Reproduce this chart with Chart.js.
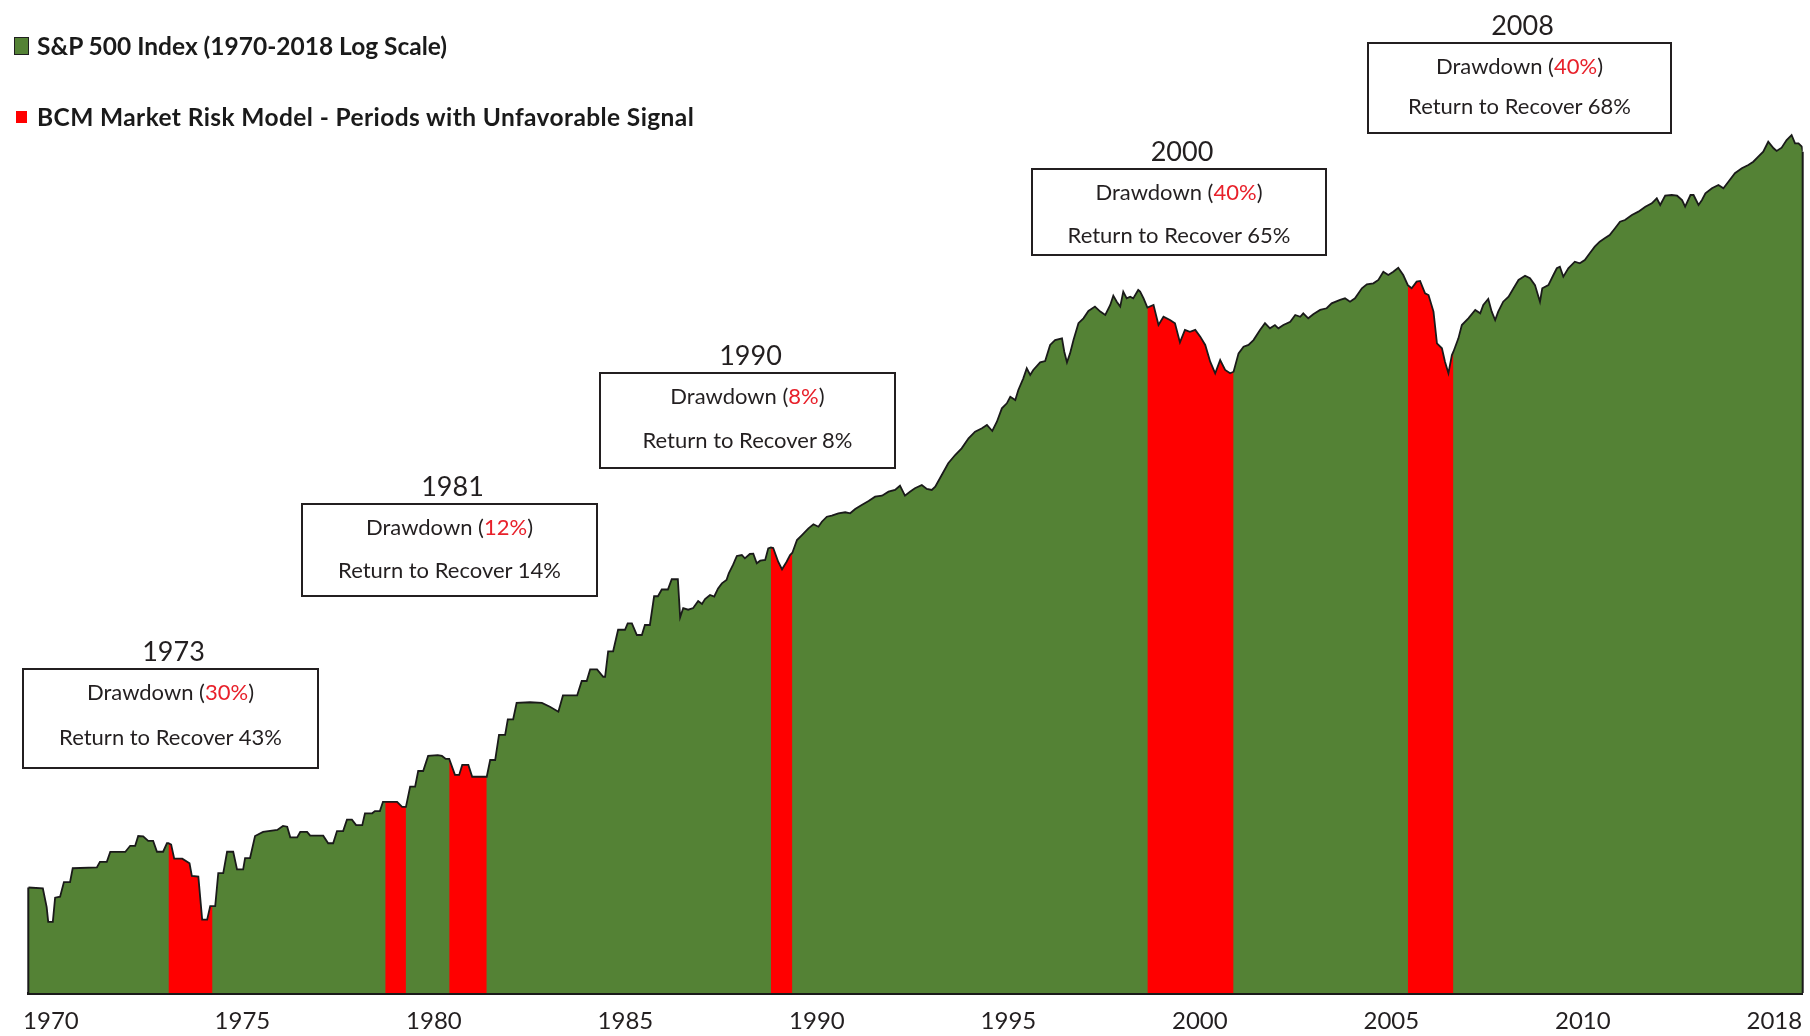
<!DOCTYPE html>
<html>
<head>
<meta charset="utf-8">
<title>S&amp;P 500 and BCM Market Risk Model</title>
<script src="https://cdn.jsdelivr.net/npm/chart.js@4.4.1/dist/chart.umd.min.js"></script>
<style>
  html, body { margin: 0; padding: 0; background: #fff; }
  #wrap { position: relative; width: 1810px; height: 1036px; font-family: Lato, 'Open Sans', sans-serif; color: #231f20; }
  #chart { position: absolute; left: 0; top: 0; }
  .swatch { position: absolute; box-sizing: border-box; }
  .legend-text { position: absolute; left: 37px; font-weight: bold; font-size: 24.5px; line-height: 28px; white-space: nowrap; color: #1a1a1a; }
  .note-title { position: absolute; font-size: 27px; line-height: 30px; transform: translate(-50%, -50%); white-space: nowrap; }
  .note { position: absolute; box-sizing: border-box; border: 2.5px solid #231f20; background: #fff; }
  .note div { position: absolute; left: 0; right: 0; text-align: center; font-size: 22px; line-height: 26px; transform: translateY(-50%); white-space: nowrap; }
  .red { color: #e8202a; }
</style>
</head>
<body>
<div id="wrap">
  <canvas id="chart" width="1810" height="1036"></canvas>
</div>
<script>
// S&P 500 level (x in the picture's year units)
const dates = [
  1969.41, 1969.79, 1969.89, 1969.93, 1970.05, 1970.11, 1970.24, 1970.34, 1970.50, 1970.57,
  1971.20, 1971.28, 1971.46, 1971.55, 1971.94, 1972.07, 1972.20, 1972.28, 1972.41, 1972.54,
  1972.67, 1972.77, 1972.93, 1973.03, 1973.07, 1973.14, 1973.22, 1973.43, 1973.62, 1973.68,
  1973.85, 1973.95, 1974.08, 1974.16, 1974.22, 1974.29, 1974.37, 1974.50, 1974.60, 1974.76,
  1974.86, 1975.02, 1975.07, 1975.20, 1975.33, 1975.54, 1975.91, 1976.06, 1976.17, 1976.25,
  1976.43, 1976.51, 1976.69, 1976.77, 1977.11, 1977.24, 1977.37, 1977.47, 1977.63, 1977.73,
  1977.86, 1977.97, 1978.13, 1978.20, 1978.39, 1978.46, 1978.59, 1978.67, 1978.73, 1978.91,
  1979.04, 1979.17, 1979.27, 1979.38, 1979.51, 1979.59, 1979.72, 1979.85, 1980.10, 1980.21,
  1980.31, 1980.40, 1980.55, 1980.66, 1980.74, 1980.90, 1981.00, 1981.38, 1981.47, 1981.60,
  1981.70, 1981.86, 1981.93, 1982.07, 1982.16, 1982.51, 1982.82, 1983.03, 1983.25, 1983.37,
  1983.74, 1983.86, 1983.99, 1984.08, 1984.26, 1984.42, 1984.47, 1984.55, 1984.68, 1984.81,
  1984.99, 1985.06, 1985.17, 1985.30, 1985.43, 1985.51, 1985.64, 1985.75, 1985.85, 1985.95,
  1986.11, 1986.21, 1986.37, 1986.43, 1986.51, 1986.64, 1986.77, 1986.90, 1987.00, 1987.08,
  1987.21, 1987.32, 1987.42, 1987.52, 1987.64, 1987.70, 1987.81, 1987.91, 1988.04, 1988.12,
  1988.25, 1988.34, 1988.43, 1988.52, 1988.65, 1988.73, 1988.80, 1988.86, 1988.99, 1989.09,
  1989.21, 1989.30, 1989.36, 1989.48, 1989.61, 1989.78, 1989.91, 1990.04, 1990.13, 1990.26,
  1990.39, 1990.56, 1990.74, 1990.87, 1991.00, 1991.17, 1991.35, 1991.52, 1991.70, 1991.87,
  1992.04, 1992.17, 1992.30, 1992.43, 1992.56, 1992.74, 1992.87, 1993.00, 1993.09, 1993.26,
  1993.43, 1993.61, 1993.78, 1993.96, 1994.13, 1994.31, 1994.44, 1994.58, 1994.70, 1994.83,
  1994.96, 1995.05, 1995.18, 1995.26, 1995.39, 1995.48, 1995.57, 1995.65, 1995.83, 1995.96,
  1996.09, 1996.22, 1996.40, 1996.46, 1996.53, 1996.61, 1996.70, 1996.83, 1996.96, 1997.09,
  1997.26, 1997.40, 1997.53, 1997.66, 1997.74, 1997.83, 1997.92, 1998.00, 1998.09, 1998.18,
  1998.26, 1998.39, 1998.44, 1998.53, 1998.63, 1998.79, 1998.92, 1999.05, 1999.22, 1999.35,
  1999.48, 1999.61, 1999.74, 1999.88, 2000.01, 2000.14, 2000.27, 2000.40, 2000.53, 2000.66,
  2000.79, 2000.88, 2001.01, 2001.14, 2001.27, 2001.40, 2001.57, 2001.70, 2001.83, 2001.96,
  2002.05, 2002.18, 2002.36, 2002.49, 2002.62, 2002.70, 2002.83, 2002.96, 2003.14, 2003.31,
  2003.44, 2003.66, 2003.79, 2003.92, 2004.05, 2004.23, 2004.36, 2004.53, 2004.66, 2004.79,
  2004.92, 2005.05, 2005.18, 2005.31, 2005.43, 2005.53, 2005.66, 2005.75, 2005.88, 2005.97,
  2006.10, 2006.19, 2006.32, 2006.40, 2006.49, 2006.58, 2006.62, 2006.75, 2006.84, 2007.01,
  2007.19, 2007.32, 2007.40, 2007.53, 2007.62, 2007.71, 2007.79, 2007.92, 2008.06, 2008.19,
  2008.32, 2008.49, 2008.62, 2008.75, 2008.88, 2008.94, 2009.10, 2009.23, 2009.32, 2009.40,
  2009.49, 2009.62, 2009.79, 2009.92, 2010.05, 2010.18, 2010.31, 2010.44, 2010.57, 2010.70,
  2010.84, 2010.97, 2011.10, 2011.28, 2011.45, 2011.63, 2011.80, 2011.93, 2012.02, 2012.15,
  2012.32, 2012.46, 2012.59, 2012.67, 2012.81, 2012.89, 2013.02, 2013.11, 2013.20, 2013.37,
  2013.54, 2013.67, 2013.80, 2013.97, 2014.15, 2014.32, 2014.45, 2014.58, 2014.71, 2014.84,
  2014.98, 2015.06, 2015.19, 2015.32, 2015.45, 2015.54, 2015.63, 2015.72, 2015.74
];
const levels = [
  92.0, 91.6, 84.1, 78.6, 78.6, 87.8, 88.2, 94.3, 94.3, 100.5,
  100.9, 103.5, 103.5, 108.3, 108.3, 111.4, 111.4, 116.5, 116.3, 113.9,
  113.9, 108.4, 108.4, 112.7, 112.7, 112.0, 105.0, 105.0, 102.8, 97.0,
  96.7, 79.4, 79.4, 84.5, 84.5, 84.5, 98.3, 98.3, 108.4, 108.4,
  100.0, 100.0, 105.3, 105.3, 116.5, 118.7, 119.8, 122.0, 121.6, 115.8,
  115.8, 118.7, 118.7, 116.7, 116.7, 112.7, 112.7, 119.2, 119.2, 125.6,
  125.6, 122.5, 122.5, 129.3, 129.3, 130.6, 130.6, 136.3, 136.3, 136.3,
  136.2, 133.2, 133.2, 146.1, 146.1, 157.0, 157.0, 168.2, 168.8, 168.2,
  165.9, 165.9, 154.2, 154.2, 161.4, 161.4, 152.9, 152.9, 165.1, 165.1,
  185.2, 185.2, 199.0, 199.0, 214.5, 215.2, 214.5, 210.8, 206.1, 222.0,
  222.0, 237.2, 237.2, 250.2, 250.2, 241.9, 241.9, 271.8, 271.8, 300.1,
  300.1, 309.0, 309.0, 292.9, 292.9, 306.7, 306.7, 349.9, 349.9, 360.9,
  360.9, 378.3, 378.3, 317.7, 331.5, 329.0, 331.5, 342.4, 337.7, 345.5,
  351.9, 349.5, 362.8, 371.2, 377.0, 388.7, 403.9, 420.9, 422.8, 416.4,
  424.8, 425.5, 407.0, 411.9, 413.2, 435.9, 437.9, 436.5, 410.0, 395.9,
  410.0, 422.8, 427.3, 452.9, 463.3, 477.8, 486.7, 481.4, 492.5, 503.9,
  506.3, 511.9, 514.3, 511.9, 522.1, 531.8, 541.7, 552.4, 555.0, 565.2,
  569.7, 581.0, 555.0, 565.2, 574.1, 582.9, 572.3, 569.7, 578.4, 610.3,
  643.9, 668.8, 689.6, 722.1, 744.3, 756.0, 767.6, 746.6, 779.2, 828.4,
  847.7, 873.7, 860.7, 901.3, 950.8, 995.4, 965.4, 987.7, 1023, 1029,
  1108, 1133, 1142, 1074, 1023, 1066, 1133, 1224, 1252, 1295,
  1321, 1291, 1271, 1331, 1389, 1351, 1321, 1415, 1372, 1382,
  1372, 1426, 1415, 1372, 1315, 1331, 1214, 1261, 1242, 1224,
  1121, 1187, 1177, 1187, 1151, 1108, 1026, 973, 1034, 988,
  973, 980, 1066, 1099, 1108, 1133, 1187, 1224, 1196, 1214,
  1196, 1214, 1232, 1271, 1261, 1281, 1252, 1275, 1301, 1311,
  1341, 1362, 1372, 1351, 1372, 1437, 1463, 1470, 1493, 1550,
  1527, 1550, 1579, 1527, 1458, 1437, 1481, 1486, 1404, 1393,
  1291, 1116, 1091, 1026, 973, 1058, 1074, 1142, 1214, 1252,
  1301, 1281, 1331, 1368, 1291, 1242, 1291, 1351, 1382, 1437,
  1493, 1522, 1504, 1458, 1351, 1437, 1458, 1527, 1575, 1586,
  1515, 1575, 1623, 1611, 1636, 1687, 1739, 1779, 1807, 1834,
  1892, 1950, 1965, 2011, 2042, 2089, 2122, 2171, 2105, 2197,
  2204, 2197, 2154, 2089, 2204, 2204, 2105, 2154, 2221, 2273,
  2308, 2273, 2343, 2435, 2491, 2529, 2568, 2627, 2689, 2814,
  2731, 2697, 2738, 2836, 2902, 2793, 2793, 2751, 2689
];

// periods with an unfavorable signal (start / end, same year units)
const signalStart = [1973.07, 1978.73, 1980.40, 1988.80, 1998.63, 2005.43];
const signalEnd   = [1974.22, 1979.27, 1981.38, 1989.36, 2000.88, 2006.62];

// x axis ticks: the last one carries the "2018" label
const tickYears  = [1970, 1975, 1980, 1985, 1990, 1995, 2000, 2005, 2010, 2015];
const tickLabels = ['1970', '1975', '1980', '1985', '1990', '1995', '2000', '2005', '2010', '2018'];

// drawdown notes
const noteYears     = ['1973', '1981', '1990', '2000', '2008'];
const noteDrawdowns = ['30%', '12%', '8%', '40%', '40%'];
const noteRecovers  = ['43%', '14%', '8%', '65%', '68%'];

const legendLabels = ['S&P 500 Index (1970-2018 Log Scale)', 'BCM Market Risk Model - Periods with Unfavorable Signal'];

const GREEN = '#548235';
const RED = '#ff0000';
const LINE = '#1a1a1a';

function inSignal(d) {
    for (let i = 0; i < signalStart.length; i++) {
        if (d >= signalStart[i] && d <= signalEnd[i]) return true;
    }
    return false;
}

// vertical sides of the area at both ends of the series
const edgeLines = {
    id: 'edgeLines',
    afterDatasetsDraw(chart) {
        const pts = chart.getDatasetMeta(0).data;
        const first = pts[0];
        const last = pts[pts.length - 1];
        const bottom = chart.chartArea.bottom;
        const c = chart.ctx;
        c.save();
        c.strokeStyle = LINE;
        c.lineWidth = 2;
        c.beginPath();
        c.moveTo(first.x, first.y);
        c.lineTo(first.x, bottom);
        c.moveTo(last.x, last.y);
        c.lineTo(last.x, bottom);
        c.stroke();
        c.restore();
    }
};

const ctx = document.getElementById('chart').getContext('2d');
new Chart(ctx, {
    type: 'line',
    data: {
        datasets: [{
            label: legendLabels[0],
            data: dates.map((d, i) => ({x: d, y: levels[i]})),
            borderColor: LINE,
            borderWidth: 1.8,
            backgroundColor: GREEN,
            fill: 'start',
            pointRadius: 0,
            tension: 0,
            order: 1
        }, {
            label: legendLabels[1],
            data: dates.map((d, i) => ({x: d, y: inSignal(d) ? levels[i] : null})),
            borderWidth: 0,
            borderColor: 'rgba(0,0,0,0)',
            backgroundColor: RED,
            fill: 'start',
            pointRadius: 0,
            tension: 0,
            spanGaps: false,
            order: 0
        }]
    },
    options: {
        responsive: false,
        animation: false,
        devicePixelRatio: 1,
        layout: {padding: {left: 28.3, right: 7.3, top: 100, bottom: 0}},
        plugins: {
            legend: {display: false},
            tooltip: {enabled: false},
            filler: {drawTime: 'beforeDatasetsDraw'}
        },
        scales: {
            x: {
                type: 'linear',
                bounds: 'data',
                min: 1969.41,
                max: 2015.74,
                z: 1,
                grid: {display: false, drawTicks: false},
                border: {display: true, color: LINE, width: 3},
                afterBuildTicks: s => { s.ticks = tickYears.map(v => ({value: v})); },
                afterFit: s => { s.height = 43; },
                ticks: {
                    autoSkip: false,
                    maxRotation: 0,
                    padding: 0,
                    color: '#231f20',
                    // tall line box pushes the labels down without padding (padding would also shrink the plot sideways)
                    font: {family: 'Lato', size: 24, lineHeight: '56.8px'},
                    callback: (v, i) => tickLabels[i]
                }
            },
            y: {
                type: 'logarithmic',
                display: false,
                bounds: 'data',
                min: 56.71,
                max: 3407.6
            }
        }
    },
    plugins: [edgeLines]
});

// legend and note boxes as html on top of the canvas
const wrap = document.getElementById('wrap');

function addEl(cls, css, html) {
    const el = document.createElement('div');
    el.className = cls;
    el.style.cssText = css;
    if (html) el.innerHTML = html;
    wrap.appendChild(el);
    return el;
}

addEl('swatch', `left:14px;top:37px;width:15px;height:18px;background:${GREEN};border:1.5px solid #1f1f1f;`);
addEl('legend-text', 'top:32px;', legendLabels[0].replace('&', '&amp;'));
addEl('swatch', `left:16px;top:111px;width:11px;height:12px;background:${RED};`);
addEl('legend-text', 'top:103px;letter-spacing:0.4px;', legendLabels[1]);

// box left, top, width, height, offset of the second text line
const noteBoxes = [
    [22, 668, 297, 101, 69],
    [301, 503, 297, 94, 67],
    [599, 372, 297, 97, 68.5],
    [1031, 168, 296, 88, 67],
    [1367, 42, 305, 92, 64]
];

noteYears.forEach((yr, i) => {
    const [l, t, w, h, off] = noteBoxes[i];
    addEl('note-title', `left:${l + w / 2 + 3}px;top:${t - 17}px;`, yr);
    const box = addEl('note', `left:${l}px;top:${t}px;width:${w}px;height:${h}px;`);
    const l1 = document.createElement('div');
    l1.style.top = '22px';
    l1.innerHTML = `Drawdown (<span class="red">${noteDrawdowns[i]}</span>)`;
    const l2 = document.createElement('div');
    l2.style.top = (off - 2.5) + 'px';
    l2.textContent = 'Return to Recover ' + noteRecovers[i];
    box.appendChild(l1);
    box.appendChild(l2);
});
</script>
</body>
</html>
